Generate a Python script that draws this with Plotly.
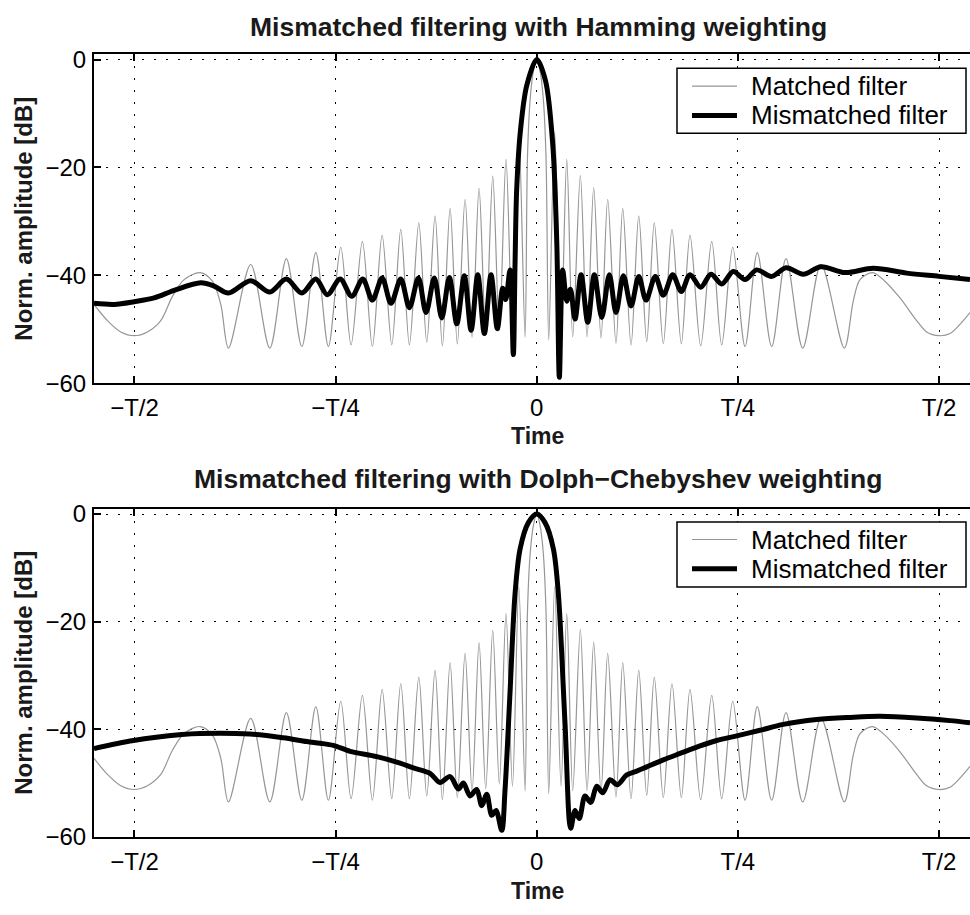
import plotly.graph_objects as go

# ---------------- data (time in units of T, amplitude in dB) ----------------
matched_t = [-0.5503, -0.5336, -0.5170, -0.5003, -0.4839, -0.4673, -0.4528, -0.4383, -0.4184, -0.4031,
             -0.3927, -0.3832, -0.3555, -0.3318, -0.3112, -0.2920, -0.2746, -0.2590, -0.2436, -0.2308,
             -0.2167, -0.2043, -0.1922, -0.1802, -0.1690, -0.1583, -0.1466, -0.1367, -0.1264, -0.1173,
             -0.1077, -0.0987, -0.0891, -0.0804, -0.0717, -0.0634, -0.0547, -0.0465, -0.0382, -0.0302,
             -0.0223, -0.0145, -0.0115, -0.0080, -0.0040, 0.0,
             0.0040, 0.0080, 0.0115, 0.0149, 0.0223, 0.0302, 0.0373, 0.0447, 0.0542, 0.0625,
             0.0708, 0.0799, 0.0882, 0.0985, 0.1069, 0.1172, 0.1268, 0.1367, 0.1461, 0.1573,
             0.1681, 0.1797, 0.1905, 0.2038, 0.2175, 0.2299, 0.2436, 0.2589, 0.2741, 0.2920,
             0.3098, 0.3306, 0.3533, 0.3823, 0.3934, 0.4018, 0.4175, 0.4320, 0.4515, 0.4722,
             0.4846, 0.5000, 0.5136, 0.5301, 0.5385]
matched_db = [-45.4, -48.4, -50.5, -51.2, -50.5, -48.4, -43.9, -40.8, -39.5, -41.1,
              -45.4, -53.5, -38.0, -53.5, -36.9, -53.2, -35.8, -53.2, -34.8, -52.9,
              -33.7, -53.2, -32.6, -52.9, -31.5, -52.9, -30.3, -52.4, -29.0, -53.1,
              -27.6, -52.7, -25.9, -51.5, -23.9, -51.1, -21.6, -50.2, -18.5, -50.6,
              -13.5, -51.5, -18.0, -7.0, -2.0, 0.0,
              -2.0, -7.0, -18.0, -52.0, -13.5, -50.6, -18.5, -51.4, -21.5, -51.4,
              -23.8, -51.6, -25.9, -52.6, -27.6, -52.9, -29.0, -52.3, -30.3, -52.7,
              -31.5, -52.7, -32.6, -53.1, -33.7, -52.9, -34.8, -53.2, -35.8, -53.2,
              -36.9, -53.5, -38.0, -53.5, -44.8, -40.8, -39.5, -41.0, -44.2, -48.4,
              -50.5, -51.2, -50.8, -48.4, -46.9]

hamming_t = [-0.5503, -0.5253, -0.5003, -0.4756, -0.4507, -0.4175, -0.4010, -0.3832, -0.3555, -0.3318,
             -0.3112, -0.2920, -0.2746, -0.2602, -0.2444, -0.2299, -0.2162, -0.2043, -0.1922, -0.1811,
             -0.1690, -0.1583, -0.1471, -0.1376, -0.1273, -0.1181, -0.1086, -0.0994, -0.0900, -0.0816,
             -0.0733, -0.0651, -0.0568, -0.0490, -0.0423, -0.0385, -0.0332, -0.0291, -0.0270, -0.0249,
             -0.0204, -0.0124, 0.0,
             0.0110, 0.0199, 0.0249, 0.0281, 0.0323, 0.0373, 0.0418, 0.0476, 0.0551, 0.0634,
             0.0716, 0.0808, 0.0902, 0.0985, 0.1077, 0.1172, 0.1268, 0.1358, 0.1474, 0.1573,
             0.1690, 0.1797, 0.1905, 0.2038, 0.2166, 0.2299, 0.2443, 0.2589, 0.2734, 0.2920,
             0.3098, 0.3313, 0.3533, 0.3831, 0.4183, 0.4598, 0.5000, 0.5385]
hamming_db = [-45.2, -45.4, -44.9, -44.2, -42.8, -41.4, -42.0, -43.3, -41.0, -43.1,
              -40.7, -43.3, -40.7, -43.6, -40.7, -43.9, -40.7, -44.6, -40.5, -45.2,
              -40.7, -46.0, -40.5, -46.9, -40.5, -47.9, -40.4, -49.0, -40.1, -50.2,
              -39.9, -50.8, -39.9, -49.9, -42.4, -44.5, -39.0, -54.7, -38.0, -24.0,
              -13.4, -4.8, 0.0,
              -4.0, -15.8, -33.9, -58.9, -39.0, -44.8, -42.6, -48.1, -39.9, -48.7,
              -39.9, -47.8, -39.9, -46.9, -40.1, -45.7, -40.2, -44.6, -40.2, -43.7,
              -39.9, -43.0, -39.9, -42.2, -39.8, -41.6, -39.3, -40.8, -39.0, -40.2,
              -38.6, -39.8, -38.4, -39.5, -38.7, -39.6, -40.2, -40.8]

dolph_t = [-0.5503, -0.5013, -0.4412, -0.4184, -0.3563, -0.3149, -0.2858, -0.2693, -0.2528, -0.2320,
           -0.1988, -0.1699, -0.1533, -0.1326, -0.1202, -0.1077, -0.0974, -0.0912, -0.0829, -0.0746,
           -0.0684, -0.0621, -0.0559, -0.0506, -0.0435,
           -0.0394, -0.0332, -0.0270, -0.0207, -0.0104, 0.0,
           0.0103, 0.0207, 0.0269, 0.0352, 0.0422, 0.0476, 0.0529, 0.0600, 0.0671, 0.0746,
           0.0820, 0.0911, 0.1002, 0.1118, 0.1243, 0.1367, 0.1573, 0.1781, 0.2029, 0.2237,
           0.2498, 0.2775, 0.3065, 0.3479, 0.3894, 0.4266, 0.4722, 0.5136, 0.5385]
dolph_db = [-43.6, -42.1, -41.0, -40.8, -40.9, -41.6, -42.3, -42.6, -43.0, -44.1,
            -45.1, -46.3, -47.2, -48.2, -49.9, -48.8, -51.1, -50.0, -52.4, -51.2,
            -54.2, -52.1, -56.0, -55.1, -58.8,
            -51.2, -33.1, -14.9, -6.5, -1.6, 0.0,
            -1.6, -6.5, -14.9, -39.1, -58.4, -55.1, -56.6, -52.4, -53.6, -50.6,
            -51.8, -49.4, -50.3, -48.5, -47.8, -47.0, -45.7, -44.5, -43.1, -42.1,
            -41.2, -40.2, -39.1, -38.2, -37.8, -37.6, -37.9, -38.4, -38.8]

x_tickvals = [-0.5, -0.25, 0, 0.25, 0.5]
x_ticktext = ["\u2212T/2", "\u2212T/4", "0", "T/4", "T/2"]
y_tickvals = [-60, -40, -20, 0]
y_ticktext = ["\u221260", "\u221240", "\u221220", "0"]

titles = ["Mismatched filtering with Hamming weighting",
          "Mismatched filtering with Dolph\u2212Chebyshev weighting"]
series_names = ["Matched filter", "Mismatched filter"]
x_label = "Time"
y_label = "Norm. amplitude [dB]"

# ---------------- layout geometry (pixels) ----------------
W, H = 970, 915
FONT = "Liberation Sans, Arial, Helvetica, sans-serif"


def py(p):
    return 1 - p / H


def pxx(p):
    return p / W


GRAY = "#969696"
GRAY_W = 1.2
BLACK_W = 5

fig = go.Figure()
panels = [("x", "y", hamming_t, hamming_db),
          ("x2", "y2", dolph_t, dolph_db)]
for xa, ya, mt, mdb in panels:
    fig.add_trace(go.Scatter(x=matched_t, y=matched_db, xaxis=xa, yaxis=ya, mode="lines",
                             line=dict(color=GRAY, width=GRAY_W, shape="spline", smoothing=0.9),
                             name=series_names[0], showlegend=False))
    fig.add_trace(go.Scatter(x=mt, y=mdb, xaxis=xa, yaxis=ya, mode="lines",
                             line=dict(color="black", width=BLACK_W, shape="spline", smoothing=0.9),
                             name=series_names[1], showlegend=False))

xr = [-0.5503, 0.5385]
xcommon = dict(range=xr, tickvals=x_tickvals, ticktext=x_ticktext, showgrid=True,
               gridcolor="black", griddash="2px,10px", gridwidth=1, zeroline=False,
               showline=True, linecolor="black", linewidth=2, mirror="ticks",
               ticks="inside", ticklen=7, tickwidth=1.5, tickcolor="black",
               tickfont=dict(family=FONT, size=24, color="black"), ticklabelstandoff=2)
ycommon = dict(range=[-60, 1], tickvals=y_tickvals, ticktext=y_ticktext, showgrid=True,
               gridcolor="black", griddash="2px,10px", gridwidth=1, zeroline=False,
               showline=True, linecolor="black", linewidth=2, mirror=False,
               ticks="inside", ticklen=7, tickwidth=1.5, tickcolor="black",
               tickfont=dict(family=FONT, size=24, color="black"), ticklabelstandoff=1)

fig.update_layout(
    width=W, height=H, margin=dict(l=0, r=0, t=0, b=0),
    paper_bgcolor="white", plot_bgcolor="white", showlegend=False,
    xaxis=dict(domain=[pxx(94), 1.0], anchor="y", **xcommon),
    yaxis=dict(domain=[py(384), py(47.2)], anchor="x", **ycommon),
    xaxis2=dict(domain=[pxx(94), 1.0], anchor="y2", **xcommon),
    yaxis2=dict(domain=[py(848.3), py(512.4)], anchor="x2", **ycommon),
)

ann = []
shapes = []
panel_text = [(titles[0], 19.2, 438.3, 215.6, 61.7, 80, 110),
              (titles[1], 482.5, 904.2, 680.4, 526, 544, 574)]
for title, tyc, xyc, ymid, lg_top, row1, row2 in panel_text:
    ann.append(dict(text="<b>%s</b>" % title, x=pxx(538), y=py(tyc), xref="paper", yref="paper",
                    xanchor="center", yanchor="middle", showarrow=False,
                    font=dict(family=FONT, size=26.5, color="#1a1a1a")))
    ann.append(dict(text="<b>%s</b>" % x_label, x=pxx(537), y=py(xyc), xref="paper", yref="paper",
                    xanchor="center", yanchor="middle", showarrow=False,
                    font=dict(family=FONT, size=23, color="#1a1a1a")))
    ann.append(dict(text="<b>%s</b>" % y_label, x=pxx(24), y=py(ymid), xref="paper", yref="paper",
                    xanchor="center", yanchor="middle", showarrow=False, textangle=-90,
                    font=dict(family=FONT, size=24, color="#1a1a1a")))
    # legend box
    shapes.append(dict(type="rect", xref="paper", yref="paper", x0=pxx(677), x1=pxx(966),
                       y0=py(lg_top), y1=py(lg_top + 66.6), line=dict(color="black", width=1.5),
                       fillcolor="white", layer="above"))
    for name, yrow, col, wdt in [(series_names[0], row1, GRAY, GRAY_W),
                                 (series_names[1], row2, "black", BLACK_W)]:
        shapes.append(dict(type="line", xref="paper", yref="paper", x0=pxx(692), x1=pxx(737),
                           y0=py(yrow), y1=py(yrow), line=dict(color=col, width=wdt),
                           layer="above"))
        ann.append(dict(text=name, x=pxx(749), y=py(yrow), xref="paper", yref="paper",
                        xanchor="left", yanchor="middle", showarrow=False,
                        font=dict(family=FONT, size=26, color="black")))
fig.update_layout(annotations=ann, shapes=shapes)

fig.write_html("out.html")
